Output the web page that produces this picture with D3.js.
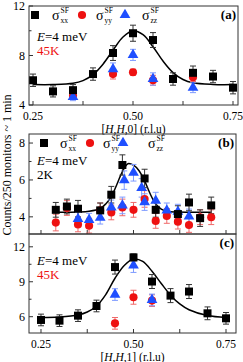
<!DOCTYPE html>
<html>
<head>
<meta charset="utf-8">
<script src="https://cdn.jsdelivr.net/npm/d3@7"></script>
<style>
  body { margin: 0; background: #fff; }
</style>
</head>
<body>
<div id="chart"></div>
<script>
// ---- panel (a): [H,H,0], 45K ----
var xA = [0.25, 0.30, 0.35, 0.40, 0.45, 0.50, 0.55, 0.60, 0.65, 0.70, 0.75];
var xxA = [6.0, 5.1, 5.2, 6.5, 8.2, 9.8, 9.25, 6.1, 6.6, 6.3, 5.4];
var xxAErr = [0.5, 0.45, 0.45, 0.5, 0.6, 0.65, 0.6, 0.5, 0.55, 0.5, 0.5];
var xyzA = [0.35, 0.45, 0.50, 0.55, 0.65];
var yyA = [4.75, 6.5, 6.65, 6.0, 6.25];
var yyAErr = [0.3, 0.4, 0.25, 0.4, 0.35];
var zzA = [4.65, 6.9, 8.05, 6.1, 5.4];
var zzAErr = [0.3, 0.5, 0.45, 0.5, 0.4];
var fitAx = [0.25, 0.30, 0.35, 0.375, 0.40, 0.425, 0.45, 0.475, 0.50, 0.525, 0.55, 0.575, 0.60, 0.625, 0.65, 0.70, 0.75];
var fitAy = [5.65, 5.65, 5.75, 5.97, 6.45, 7.3, 8.43, 9.49, 10.0, 9.68, 8.71, 7.55, 6.62, 6.06, 5.79, 5.66, 5.65];

// ---- panel (b): [H,H,0], 2K ----
var xxBx = [0.29, 0.32, 0.35, 0.41, 0.44, 0.47, 0.53, 0.56, 0.62, 0.65, 0.68, 0.71];
var xxB = [4.38, 4.56, 4.44, 4.35, 5.2, 6.81, 6.08, 4.38, 4.15, 4.78, 3.93, 4.62];
var xxBErr = [0.4, 0.4, 0.45, 0.4, 0.45, 0.55, 0.5, 0.4, 0.45, 0.45, 0.45, 0.45];
var yyBx = [0.29, 0.32, 0.35, 0.38, 0.41, 0.44, 0.47, 0.50, 0.53, 0.56, 0.59, 0.62, 0.65, 0.68, 0.71];
var yyB = [3.69, 4.48, 3.59, 3.52, 4.35, 4.24, 4.51, 4.38, 4.97, 3.78, 4.05, 3.74, 3.56, 3.98, 3.98];
var yyBErr = [0.45, 0.4, 0.4, 0.4, 0.4, 0.4, 0.45, 0.4, 0.45, 0.4, 0.4, 0.4, 0.4, 0.4, 0.4];
var zzBx = [0.35, 0.38, 0.41, 0.44, 0.47, 0.475, 0.50, 0.522, 0.53, 0.56, 0.59, 0.62, 0.65];
var zzB = [3.89, 3.84, 3.96, 4.51, 4.62, 5.99, 6.39, 5.57, 4.8, 4.88, 4.35, 4.28, 4.02];
var zzBErr = [0.35, 0.35, 0.35, 0.4, 0.45, 0.5, 0.45, 0.5, 0.45, 0.45, 0.4, 0.4, 0.4];
var fitBx = [0.29, 0.35, 0.38, 0.41, 0.425, 0.44, 0.455, 0.47, 0.485, 0.50, 0.515, 0.53, 0.545, 0.56, 0.575, 0.59, 0.62, 0.71];
var fitBy = [4.25, 4.26, 4.3, 4.45, 4.7, 5.1, 5.75, 6.45, 6.88, 6.8, 6.5, 5.95, 5.25, 4.7, 4.42, 4.3, 4.26, 4.25];

// ---- panel (c): [H,H,1], 45K ----
var xC = [0.25, 0.30, 0.35, 0.40, 0.45, 0.50, 0.55, 0.60, 0.65, 0.70, 0.75];
var xxC = [5.72, 5.66, 6.09, 6.92, 10.26, 11.09, 9.02, 7.81, 8.16, 6.29, 5.86];
var xxCErr = [0.5, 0.5, 0.5, 0.5, 0.6, 0.3, 0.6, 0.6, 0.6, 0.55, 0.5];
var xyzC = [0.45, 0.50, 0.55];
var yyC = [5.43, 7.67, 7.38];
var yyCErr = [0.5, 0.6, 0.5];
var zzC = [7.9, 10.4, 7.44];
var zzCErr = [0.5, 0.6, 0.5];
var fitCx = [0.25, 0.30, 0.35, 0.375, 0.40, 0.425, 0.45, 0.475, 0.50, 0.525, 0.55, 0.575, 0.60, 0.625, 0.65, 0.70, 0.75];
var fitCy = [5.93, 5.98, 6.15, 6.4, 6.92, 7.9, 9.3, 10.4, 10.95, 10.75, 9.9, 8.85, 7.85, 7.1, 6.6, 6.1, 5.93];

var xMajor = [0.25, 0.50, 0.75];
var xMinor = [0.375, 0.625];
var colXX = '#000000', colYY = '#ee1111', colZZ = '#1f4fff';

var W = 243, H = 362;
var svg = d3.select('#chart').append('svg')
    .attr('width', W)
    .attr('height', H)
    .attr('font-family', '"Liberation Serif", "Times New Roman", "DejaVu Serif", serif');

function zip(xs, ys, es) {
    return xs.map(function(x, i) { return {x: x, y: ys[i], e: es ? es[i] : 0}; });
}

function drawPanel(p) {
    var x = d3.scaleLinear().domain(p.xDomain).range([p.left, p.right]);
    var y = d3.scaleLinear().domain(p.yDomain).range([p.bottom, p.top]);
    var g = svg.append('g');

    // ticks (inside)
    xMajor.concat(xMinor).forEach(function(t) {
        g.append('line')
            .attr('x1', x(t)).attr('x2', x(t))
            .attr('y1', p.bottom).attr('y2', p.bottom - 4)
            .attr('stroke', '#333').attr('stroke-width', 1);
    });
    p.yMajor.forEach(function(t) {
        g.append('line')
            .attr('x1', p.left).attr('x2', p.left + 4)
            .attr('y1', y(t)).attr('y2', y(t))
            .attr('stroke', '#333').attr('stroke-width', 1);
        g.append('text')
            .attr('x', p.left - 4).attr('y', y(t) + 4)
            .attr('text-anchor', 'end')
            .attr('font-size', 12)
            .text(t);
    });
    p.yMinor.forEach(function(t) {
        g.append('line')
            .attr('x1', p.left).attr('x2', p.left + 2.5)
            .attr('y1', y(t)).attr('y2', y(t))
            .attr('stroke', '#333').attr('stroke-width', 1);
    });
    if (p.xLabels) {
        xMajor.forEach(function(t) {
            g.append('text')
                .attr('x', x(t)).attr('y', p.bottom + 15)
                .attr('text-anchor', 'middle')
                .attr('font-size', 11.5)
                .text(t.toFixed(2));
        });
        var title = g.append('text')
            .attr('x', (p.left + p.right) / 2).attr('y', p.bottom + 27.5)
            .attr('text-anchor', 'middle')
            .attr('font-size', 11.5);
        title.append('tspan').text('[');
        title.append('tspan').attr('font-style', 'italic').text('H');
        title.append('tspan').text(',');
        title.append('tspan').attr('font-style', 'italic').text('H');
        title.append('tspan').text(',' + p.l + '] (r.l.u)');
    }

    // fit curve
    var line = d3.line()
        .x(function(d) { return x(d.x); })
        .y(function(d) { return y(d.y); })
        .curve(d3.curveCatmullRom);
    g.append('path')
        .datum(zip(p.fitX, p.fitY))
        .attr('d', line)
        .attr('fill', 'none')
        .attr('stroke', '#000')
        .attr('stroke-width', 1.5);

    // series: error bars then markers
    p.series.forEach(function(s) {
        var data = zip(s.x, s.y, s.e);
        var eb = g.append('g').attr('stroke', s.errColor).attr('stroke-width', 1);
        data.forEach(function(d) {
            eb.append('line').attr('x1', x(d.x)).attr('x2', x(d.x))
                .attr('y1', y(d.y - d.e)).attr('y2', y(d.y + d.e));
            eb.append('line').attr('x1', x(d.x) - 3).attr('x2', x(d.x) + 3)
                .attr('y1', y(d.y - d.e)).attr('y2', y(d.y - d.e));
            eb.append('line').attr('x1', x(d.x) - 3).attr('x2', x(d.x) + 3)
                .attr('y1', y(d.y + d.e)).attr('y2', y(d.y + d.e));
        });
    });
    p.series.forEach(function(s) {
        var data = zip(s.x, s.y, s.e);
        g.selectAll(null).data(data).enter().append('path')
            .attr('transform', function(d) { return 'translate(' + x(d.x) + ',' + y(d.y) + ')'; })
            .attr('d', d3.symbol().type(s.symbol).size(s.size))
            .attr('fill', s.color);
    });

    // frame
    g.append('rect')
        .attr('x', p.left).attr('y', p.top)
        .attr('width', p.right - p.left).attr('height', p.bottom - p.top)
        .attr('fill', 'none').attr('stroke', '#333').attr('stroke-width', 1);

    // legend (panels a and b only)
    if (p.legX) {
        var ly = p.top + 9;
        var leg = [
            {sym: d3.symbolSquare, size: 64, color: colXX, mx: p.legX[0], sx: p.legX[1], sub: 'xx'},
            {sym: d3.symbolCircle, size: 52, color: colYY, mx: p.legX[2], sx: p.legX[3], sub: 'yy'},
            {sym: d3.symbolTriangle, size: 50, color: colZZ, mx: p.legX[4], sx: p.legX[5], sub: 'zz'}
        ];
        leg.forEach(function(l) {
            g.append('path')
                .attr('transform', 'translate(' + l.mx + ',' + ly + ')')
                .attr('d', d3.symbol().type(l.sym).size(l.size))
                .attr('fill', l.color);
            g.append('text').attr('x', l.sx).attr('y', ly + 4.5)
                .attr('font-size', 14).text('\u03c3');
            g.append('text').attr('x', l.sx + 8.5).attr('y', ly - 2.5)
                .attr('font-size', 7.5).text('SF');
            g.append('text').attr('x', l.sx + 8.5).attr('y', ly + 7.5)
                .attr('font-size', 7.5).text(l.sub);
        });
    }
    g.append('text')
        .attr('x', p.right - 2).attr('y', p.top + 13)
        .attr('text-anchor', 'end')
        .attr('font-size', 13).attr('font-weight', 'bold')
        .text(p.tag);

    // energy / temperature
    var et = g.append('text').attr('x', 37).attr('y', p.top + p.eY).attr('font-size', 13);
    et.append('tspan').attr('font-style', 'italic').text('E');
    et.append('tspan').text('=4 meV');
    g.append('text').attr('x', 37).attr('y', p.top + p.eY + 14)
        .attr('font-size', 13).attr('fill', p.tColor).text(p.temp);
}

function seriesSet(xx, xxE, xxX, yy, yyE, yyX, zz, zzE, zzX) {
    return [
        {x: yyX, y: yy, e: yyE, symbol: d3.symbolCircle, size: 52, color: colYY, errColor: '#f06a6a'},
        {x: zzX, y: zz, e: zzE, symbol: d3.symbolTriangle, size: 50, color: colZZ, errColor: '#7f9bff'},
        {x: xxX, y: xx, e: xxE, symbol: d3.symbolSquare, size: 64, color: colXX, errColor: '#333'}
    ];
}

drawPanel({
    left: 29, right: 238, top: 6, bottom: 105,
    xDomain: [0.24, 0.7625], yDomain: [4, 12],
    yMajor: [4, 8, 12], yMinor: [6, 10],
    xLabels: true, l: '0', tag: '(a)', temp: '45K', tColor: '#ee1111', eY: 35,
    legX: [35, 52, 82, 96, 125, 142],
    fitX: fitAx, fitY: fitAy,
    series: seriesSet(xxA, xxAErr, xA, yyA, yyAErr, xyzA, zzA, zzAErr, xyzA)
});
drawPanel({
    left: 29, right: 236, top: 134, bottom: 234,
    xDomain: [0.2176, 0.777], yDomain: [3.07, 8.49],
    yMajor: [4, 6, 8], yMinor: [5, 7],
    xLabels: false, tag: '(b)', temp: '2K', tColor: '#000', eY: 31,
    legX: [44, 60, 90, 103, 123, 148],
    fitX: fitBx, fitY: fitBy,
    series: seriesSet(xxB, xxBErr, xxBx, yyB, yyBErr, yyBx, zzB, zzBErr, zzBx)
});
drawPanel({
    left: 29, right: 236, top: 234, bottom: 333,
    xDomain: [0.2176, 0.777], yDomain: [4.6, 13.1],
    yMajor: [6, 9, 12], yMinor: [7.5, 10.5],
    xLabels: true, l: '1', tag: '(c)', temp: '45K', tColor: '#ee1111', eY: 31,
    legX: null, fitX: fitCx, fitY: fitCy,
    series: seriesSet(xxC, xxCErr, xC, yyC, yyCErr, xyzC, zzC, zzCErr, xyzC)
});

// shared y-axis title
svg.append('text')
    .attr('transform', 'translate(11,165) rotate(-90)')
    .attr('text-anchor', 'middle')
    .attr('font-size', 12)
    .text('Counts/250 monitors ~ 1 min');
</script>
</body>
</html>
